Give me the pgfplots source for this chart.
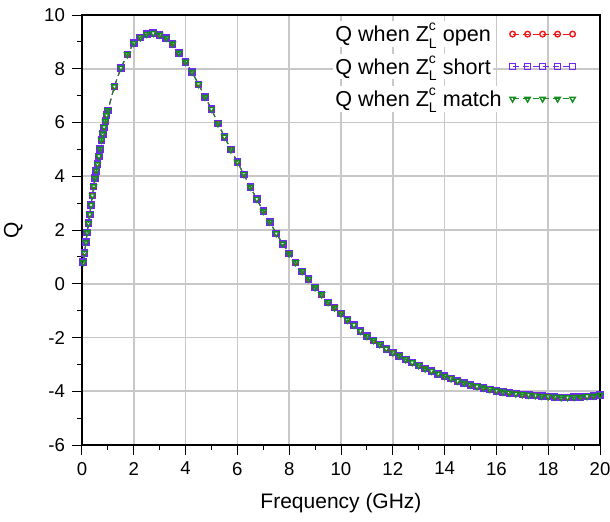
\documentclass[border=0pt]{standalone}
\usepackage{fontspec}
\setmainfont{Liberation Sans}
\usepackage{pgfplots}
\usepackage{pgfplotstable}
\pgfplotsset{compat=1.18}

\definecolor{qred}{RGB}{240,20,20}
\definecolor{qpurple}{RGB}{110,40,240}
\definecolor{qgreen}{RGB}{20,140,30}
\definecolor{gridgray}{RGB}{200,200,200}

% Q vs frequency (GHz); the three load cases overlap
\pgfplotstableread{
f q
0.05 0.80
0.10 1.15
0.15 1.55
0.20 1.91
0.25 2.25
0.30 2.58
0.35 2.93
0.40 3.28
0.45 3.62
0.50 3.93
0.55 4.20
0.60 4.45
0.65 4.74
0.70 5.02
0.75 5.35
0.80 5.58
0.85 5.82
0.90 6.05
0.95 6.27
1.00 6.45
1.25 7.34
1.50 8.03
1.75 8.53
2.00 8.95
2.25 9.16
2.50 9.29
2.75 9.32
3.00 9.26
3.25 9.14
3.50 8.93
3.75 8.59
4.00 8.25
4.25 7.88
4.50 7.42
4.75 6.95
5.00 6.50
5.25 5.96
5.50 5.47
5.75 4.99
6.00 4.53
6.25 4.07
6.50 3.60
6.75 3.15
7.00 2.70
7.25 2.30
7.50 1.87
7.75 1.49
8.00 1.12
8.25 0.79
8.50 0.46
8.75 0.18
9.00 -0.14
9.25 -0.40
9.50 -0.69
9.75 -0.89
10.00 -1.11
10.25 -1.35
10.50 -1.54
10.75 -1.76
11.00 -1.95
11.25 -2.11
11.50 -2.26
11.75 -2.42
12.00 -2.56
12.25 -2.68
12.50 -2.82
12.75 -2.93
13.00 -3.04
13.25 -3.16
13.50 -3.25
13.75 -3.35
14.00 -3.44
14.25 -3.53
14.50 -3.62
14.75 -3.69
15.00 -3.76
15.25 -3.82
15.50 -3.87
15.75 -3.93
16.00 -3.98
16.25 -4.02
16.50 -4.06
16.75 -4.09
17.00 -4.12
17.25 -4.14
17.50 -4.16
17.75 -4.18
18.00 -4.20
18.25 -4.21
18.50 -4.23
18.75 -4.23
19.00 -4.22
19.25 -4.21
19.50 -4.19
19.75 -4.17
20.00 -4.14
}\qdata

% Z with stacked c (sup) and L (sub)
\newcommand{\ZLc}{Z\makebox[0pt][l]{\raisebox{0.95ex}{\fontsize{7}{7}\selectfont c}}\raisebox{-0.55ex}{\fontsize{7}{7}\selectfont L}}

\begin{document}
\begin{tikzpicture}
\begin{axis}[
  at={(0,0)}, anchor=south west,
  scale only axis,
  width=259pt, height=215pt,
  xmin=0, xmax=20, ymin=-6, ymax=10,
  xtick={0,2,...,20}, ytick={-6,-4,...,10},
  minor xtick={1,3,...,19}, minor ytick={-5,-3,...,9},
  tick pos=left, tick align=outside,
  major tick length=5pt, minor tick length=2.5pt,
  every tick/.style={black, line width=0.5pt},
  grid=major,
  major grid style={gridgray, line width=0.8pt},
  axis line style={black, line width=0.6pt},
  ticklabel style={font=\fontsize{9.3}{11}\selectfont},
  /pgf/number format/assume math mode=true,
  xlabel={Frequency (GHz)}, ylabel={Q},
  label style={font=\fontsize{10.5}{12}\selectfont},
  xlabel style={yshift=-2pt},
  ylabel style={yshift=4pt},
  legend style={at={(1,1)}, anchor=north east, xshift=-9pt, yshift=-1pt,
    draw=none, fill=none,
    font=\fontsize{10.8}{12}\selectfont, row sep=3.5pt, column sep=3pt,
    nodes={fill=white, inner sep=1pt}},
  legend cell align=left,
  legend plot pos=right,
  legend image code/.code={
    \draw[#1, mark repeat=1] plot coordinates {(0pt,0pt) (7.5pt,0pt) (15pt,0pt) (22.5pt,0pt) (30pt,0pt)};},
]
\addplot[qred, densely dashed, line width=0.5pt, mark=o, mark size=1.4pt,
  mark options={solid, line width=0.7pt}] table[x=f, y=q] {\qdata};
\addplot[qpurple, densely dashed, line width=0.5pt, mark=square, mark size=1.5pt,
  mark options={solid, line width=0.8pt}] table[x=f, y=q] {\qdata};
\addplot[qgreen, densely dashed, line width=0.5pt, mark=triangle, mark size=1.6pt,
  mark options={solid, rotate=180, line width=0.7pt}] table[x=f, y=q] {\qdata};
\legend{Q when \ZLc\ open, Q when \ZLc\ short, Q when \ZLc\ match}
\end{axis}
\pgfresetboundingbox
\path (-41pt,-38pt) rectangle (264pt,222.5pt);
\end{tikzpicture}
\end{document}
